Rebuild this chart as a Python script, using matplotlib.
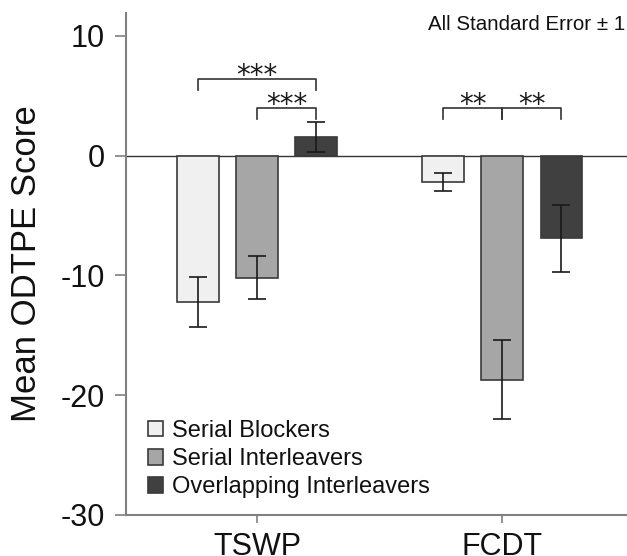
import matplotlib
matplotlib.use("Agg")
import matplotlib.pyplot as plt
import numpy as np

plt.rcParams['font.family'] = ['Liberation Sans', 'DejaVu Sans']

categories = ["TSWP", "FCDT"]
series = ["Serial Blockers", "Serial Interleavers", "Overlapping Interleavers"]
means = {
    "Serial Blockers": [-12.2, -2.2],
    "Serial Interleavers": [-10.2, -18.7],
    "Overlapping Interleavers": [1.55, -6.9],
}
errors = {
    "Serial Blockers": [2.1, 0.77],
    "Serial Interleavers": [1.8, 3.3],
    "Overlapping Interleavers": [1.25, 2.8],
}
colors = ["#f0f0f0", "#a6a6a6", "#404040"]
yticks = [-30, -20, -10, 0, 10]
# significance brackets: (category index, series i, series j, bracket y, label)
brackets = [
    (0, 0, 2, 6.4, "***"),
    (0, 1, 2, 3.97, "***"),
    (1, 0, 1, 3.97, "**"),
    (1, 1, 2, 3.97, "**"),
]
note = "All Standard Error \u00b1 1"

fig = plt.figure(figsize=(6.27, 5.56), dpi=100)
ax = fig.add_axes([126/627, 41/556, 501/627, 502/556])

x = np.arange(len(categories))
offset = 0.2416
width = 0.171
handles = []
for i, s in enumerate(series):
    pos = x + (i - 1) * offset
    b = ax.bar(pos, means[s], width, color=colors[i], edgecolor="#3a3a3a",
               linewidth=1.2, label=s, zorder=2)
    ax.errorbar(pos, means[s], yerr=errors[s], fmt="none", ecolor="#1a1a1a",
                elinewidth=1.2, capsize=6.5, capthick=1.2, zorder=3)
    handles.append(b)

ax.axhline(0, color="#333333", linewidth=1.0, zorder=1)

leg_drop = 0.89
for (c, i, j, yb, lab) in brackets:
    xi = x[c] + (i - 1) * offset
    xj = x[c] + (j - 1) * offset
    ax.plot([xi, xi, xj, xj], [yb - leg_drop, yb, yb, yb - leg_drop],
            color="#333333", linewidth=1.2, zorder=3)
    ax.text((xi + xj) / 2, yb - 0.42, lab, ha="center", va="baseline",
            fontsize=20, family="DejaVu Sans", color="#1a1a1a")

ax.set_xlim(-0.5355, 1.509)
ax.set_ylim(-30, 11.9)
ax.set_yticks(yticks)
ax.set_yticklabels([str(v) for v in yticks])
ax.set_xticks(x)
ax.set_xticklabels(categories)

for sp in ["top", "right"]:
    ax.spines[sp].set_visible(False)
for sp in ["left", "bottom"]:
    ax.spines[sp].set_color("#808080")
    ax.spines[sp].set_linewidth(1.5)

ax.tick_params(axis="y", length=8, width=1.2, color="#808080", pad=7,
               labelsize=22, labelcolor="#111111")
ax.tick_params(axis="x", length=6, width=1.2, color="#808080", pad=6,
               labelsize=22, labelcolor="#111111")

ax.set_ylabel("Mean ODTPE Score", fontsize=25, color="#111111")
ax.yaxis.set_label_coords(-0.166, 0.5)

leg = ax.legend(handles=handles, labels=series, loc="center left",
                bbox_to_anchor=(0.0433, 0.1115), frameon=False, fontsize=17,
                handlelength=0.64, handleheight=0.64, handletextpad=0.38,
                labelspacing=0.27, borderpad=0, borderaxespad=0)
for t in leg.get_texts():
    t.set_color("#111111")

fig.text(625/627, 1 - 24/556, note, ha="right", va="center", fontsize=14.8,
         color="#111111")

fig.savefig("out.png", dpi=100)
